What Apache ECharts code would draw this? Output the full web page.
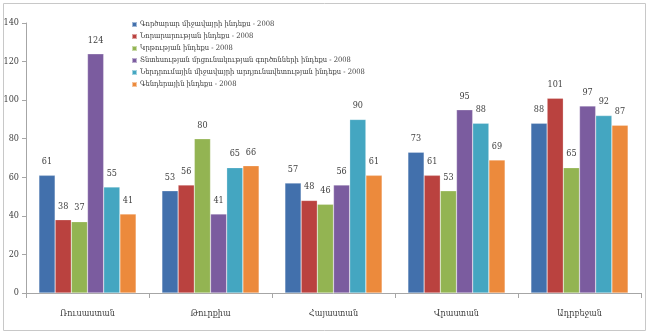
<!DOCTYPE html>
<html>
<head>
<meta charset="utf-8">
<script src="https://cdn.jsdelivr.net/npm/echarts@6/dist/echarts.min.js"></script>
<style>
  html, body { margin: 0; padding: 0; background: #fff; }
  #chart { width: 649px; height: 335px; }
</style>
</head>
<body>
<div id="chart"></div>
<script>
// Countries along the category axis
const countries = ['Ռուսաստան', 'Թուրքիա', 'Հայաստան', 'Վրաստան', 'Ադրբեջան'];

// Index names (one series per index)
const indexNames = [
  'Գործարար միջավայրի ինդեքս - 2008',
  'Նորարարության ինդեքս - 2008',
  'Կրթության ինդեքս - 2008',
  'Տնտեսության մրցունակության գործոնների ինդեքս - 2008',
  'Ներդրումային միջավայրի արդյունավետության ինդեքս - 2008',
  'Գենդերային ինդեքս - 2008'
];

// Values per index, in the order of the countries above
const index1 = [61, 53, 57, 73, 88];
const index2 = [38, 56, 48, 61, 101];
const index3 = [37, 80, 46, 53, 65];
const index4 = [124, 41, 56, 95, 97];
const index5 = [55, 65, 90, 88, 92];
const index6 = [41, 66, 61, 69, 87];

const yTicks = { min: 0, max: 140, interval: 20 };

const palette = ['#4270AC', '#BA423F', '#93B452', '#7B5C9F', '#44A6C1', '#EC8A3C'];
const seriesValues = [index1, index2, index3, index4, index5, index6];
const fontFam = '"DejaVu Serif Condensed", "DejaVu Serif", serif';

const chart = echarts.init(document.getElementById('chart'), null, { renderer: 'canvas' });

chart.setOption({
  animation: false,
  color: palette,
  textStyle: { fontFamily: fontFam },
  graphic: [{
    type: 'rect',
    shape: { x: 3.5, y: 3.5, width: 642, height: 327 },
    style: { fill: 'none', stroke: '#C8C8C8', lineWidth: 1 },
    silent: true,
    z: -1
  }],
  legend: {
    orient: 'vertical',
    left: 126,
    top: 15,
    itemWidth: 5,
    itemHeight: 5,
    itemGap: 3,
    icon: 'rect',
    textStyle: { fontSize: 7.5, lineHeight: 9, color: '#404040', fontFamily: fontFam, padding: [0, 0, 0, -2] },
    data: indexNames
  },
  grid: { left: 26, right: 8, top: 23, bottom: 42, containLabel: false },
  xAxis: {
    type: 'category',
    data: countries,
    axisLine: { lineStyle: { color: '#A6A6A6' } },
    axisTick: { show: true, length: 5, lineStyle: { color: '#A6A6A6' } },
    axisLabel: { fontSize: 9, color: '#404040', margin: 16, fontFamily: fontFam }
  },
  yAxis: {
    type: 'value',
    min: yTicks.min,
    max: yTicks.max,
    interval: yTicks.interval,
    axisLine: { show: true, lineStyle: { color: '#A6A6A6' } },
    axisTick: { show: true, length: 4, lineStyle: { color: '#A6A6A6' } },
    splitLine: { show: false },
    axisLabel: { fontSize: 9, color: '#404040', margin: 7, fontFamily: fontFam }
  },
  series: seriesValues.map((vals, i) => ({
    name: indexNames[i],
    type: 'bar',
    data: vals,
    barGap: '0%',
    barCategoryGap: '21%',
    itemStyle: { borderColor: 'rgba(255,255,255,0.5)', borderWidth: 0.5 },
    label: {
      show: true,
      position: 'top',
      distance: 9,
      fontSize: 9,
      color: '#404040',
      fontFamily: fontFam
    }
  }))
});
</script>
</body>
</html>
